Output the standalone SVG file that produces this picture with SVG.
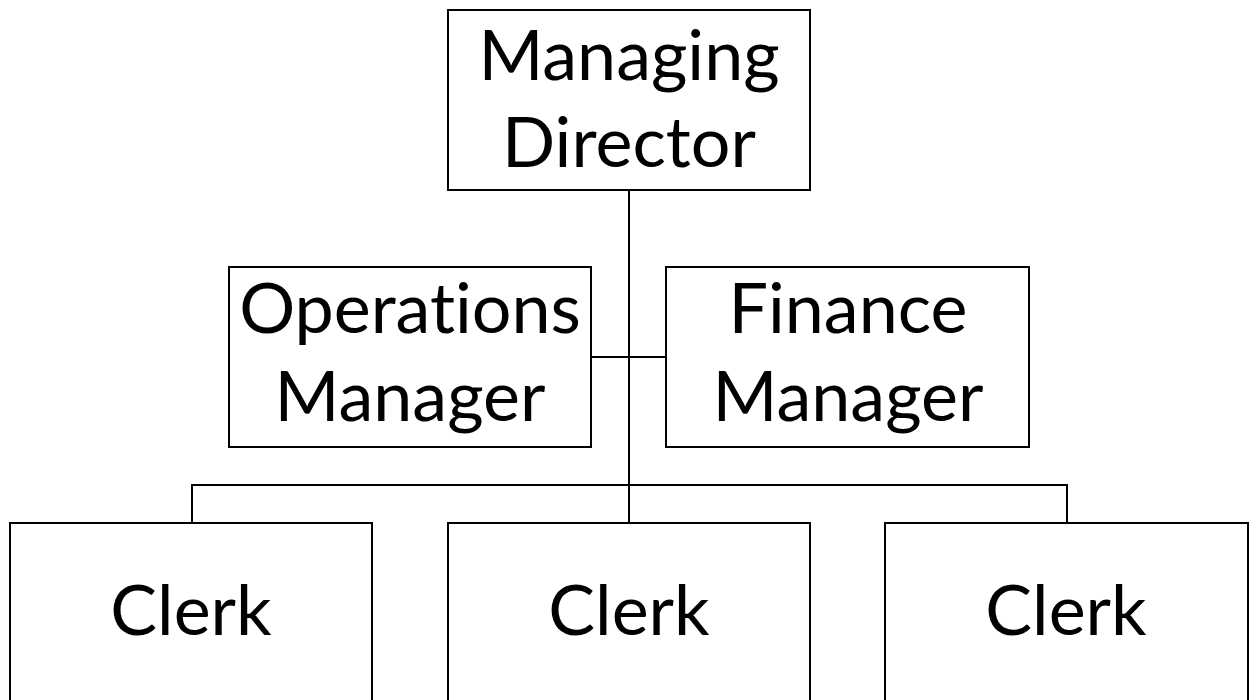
<svg xmlns="http://www.w3.org/2000/svg" width="1254" height="700" viewBox="0 0 1254 700">
<style>
.box{fill:#fff;stroke:#000;stroke-width:2}
.ln{fill:none;stroke:#000;stroke-width:2}
text{font-family:Lato,"Open Sans",sans-serif;font-size:70px;fill:#000;text-anchor:middle;font-variant-ligatures:none}
</style>
<rect width="1254" height="700" fill="#fff"/>
<g id="connectors">
<line class="ln" x1="629" y1="190" x2="629" y2="523"/>
<line class="ln" x1="591" y1="357" x2="666" y2="357"/>
<polyline class="ln" points="192,523 192,485 1067,485 1067,523"/>
</g>
<g id="md">
<rect class="box" x="448" y="10" width="362" height="180"/>
<text x="629" y="80">Managing</text>
<text x="629" y="167">Director</text>
</g>
<g id="ops">
<rect class="box" x="229" y="267" width="362" height="180"/>
<text x="410" y="333">Operations</text>
<text x="410" y="421">Manager</text>
</g>
<g id="fin">
<rect class="box" x="666" y="267" width="363" height="180"/>
<text x="848" y="333">Finance</text>
<text x="848" y="421">Manager</text>
</g>
<g id="clerk1">
<rect class="box" x="10" y="523" width="362" height="200"/>
<text x="191" y="635">Clerk</text>
</g>
<g id="clerk2">
<rect class="box" x="448" y="523" width="362" height="200"/>
<text x="629" y="635">Clerk</text>
</g>
<g id="clerk3">
<rect class="box" x="885" y="523" width="363" height="200"/>
<text x="1066" y="635">Clerk</text>
</g>
</svg>
